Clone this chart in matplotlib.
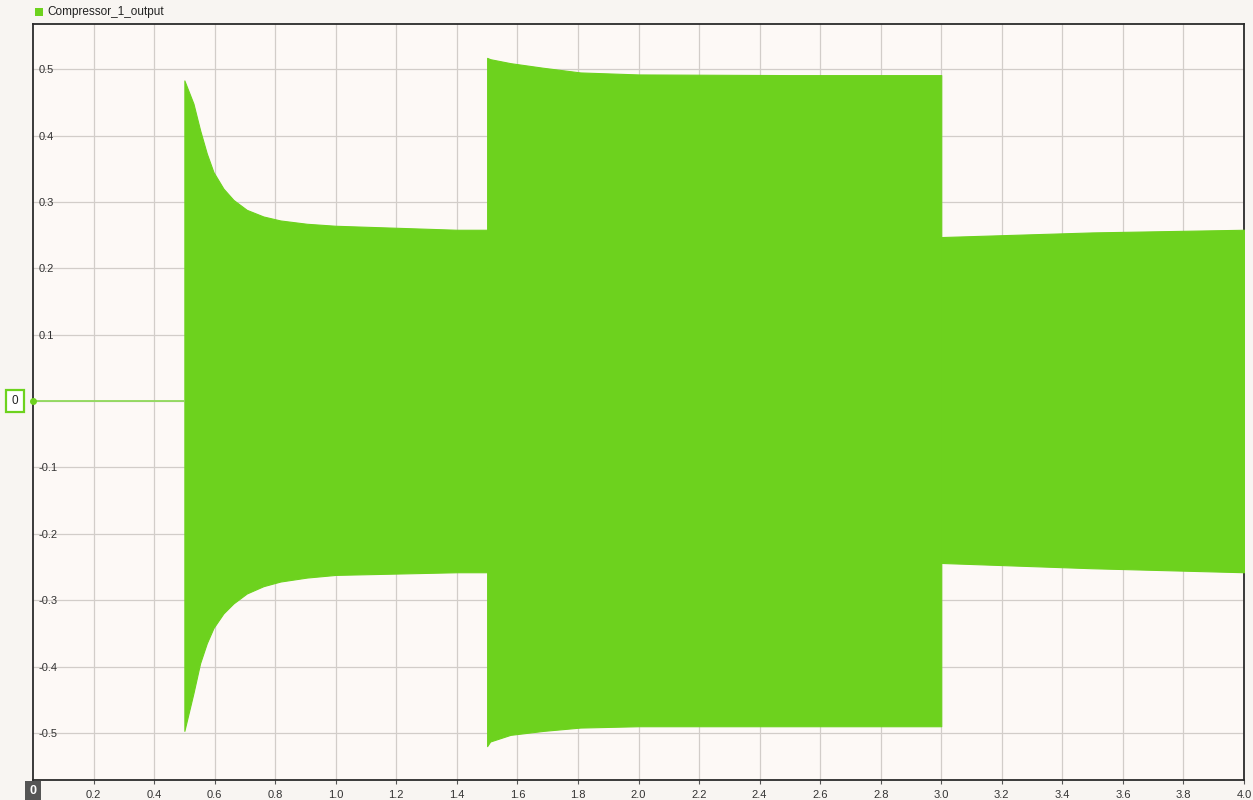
import matplotlib.pyplot as plt

# envelope of Compressor_1_output
seg1_t = [0.50, 0.53, 0.552, 0.574, 0.596, 0.629, 0.662, 0.706, 0.761, 0.817, 0.905, 1.0, 1.2, 1.4, 1.5]
seg1_hi = [0.483, 0.448, 0.408, 0.373, 0.345, 0.320, 0.303, 0.288, 0.278, 0.272, 0.267, 0.264, 0.261, 0.258, 0.258]
seg1_lo = [-0.497, -0.440, -0.395, -0.365, -0.342, -0.320, -0.305, -0.290, -0.279, -0.272, -0.266, -0.262,
           -0.260, -0.258, -0.258]

seg2_t = [1.5, 1.51, 1.577, 1.686, 1.808, 2.0, 2.5, 3.0]
seg2_hi = [0.517, 0.515, 0.509, 0.502, 0.495, 0.492, 0.491, 0.491]
seg2_lo = [-0.520, -0.513, -0.503, -0.497, -0.492, -0.490, -0.490, -0.490]

seg3_t = [3.0, 3.5, 4.0]
seg3_hi = [0.247, 0.254, 0.258]
seg3_lo = [-0.244, -0.252, -0.258]

idle_t = [0.0, 0.5]
idle_v = [0.0, 0.0]

x_ticks = [0.2, 0.4, 0.6, 0.8, 1.0, 1.2, 1.4, 1.6, 1.8, 2.0, 2.2, 2.4, 2.6, 2.8, 3.0,
           3.2, 3.4, 3.6, 3.8, 4.0]
y_ticks = [-0.5, -0.4, -0.3, -0.2, -0.1, 0.1, 0.2, 0.3, 0.4, 0.5]

green = '#6dd21e'
plt.rcParams['font.family'] = ['Liberation Sans', 'DejaVu Sans']

fig = plt.figure(figsize=(12.53, 8), dpi=100, facecolor='#f8f5f2')
ax = fig.add_axes([33 / 1253, 20 / 800, 1211 / 1253, 756 / 800])
ax.set_facecolor('#fdf9f6')

# signal envelope, segment by segment
for t, hi, lo in [(seg1_t, seg1_hi, seg1_lo), (seg2_t, seg2_hi, seg2_lo), (seg3_t, seg3_hi, seg3_lo)]:
    ax.fill_between(t, lo, hi, color=green, lw=0.8, ec=green, zorder=3)
ax.plot(idle_t, idle_v, color='#8fd95a', lw=1.3, zorder=3)
ax.plot([0], [0], 'o', color=green, ms=4, zorder=4, clip_on=False)

ax.set_xlim(0, 4.0)
ax.set_ylim(-0.571, 0.568)
ax.set_xticks(x_ticks)
ax.set_xticklabels([f'{v:.1f}' for v in x_ticks])
ax.set_yticks(y_ticks)
ax.set_yticklabels([f'{v:g}'.replace('\u2212', '-') for v in y_ticks])
for lab in ax.get_yticklabels():
    lab.set_horizontalalignment('left')
ax.tick_params(axis='y', length=0, pad=-4, labelsize=8, labelcolor='#333333')
ax.tick_params(axis='x', length=3, width=0.8, color='#555555', pad=4, labelsize=8, labelcolor='#333333')
ax.grid(True, color='#d2cdc9', lw=0.9, zorder=0)
ax.axhline(0, color='#d2cdc9', lw=0.9, zorder=0)
for s in ax.spines.values():
    s.set_color('#2b2b2b')
    s.set_linewidth(1.3)

# zero markers on the axes
ax.text(-0.0149, 0, '0', transform=ax.get_yaxis_transform(), ha='center', va='center', fontsize=8.5,
        color='#222222', bbox=dict(boxstyle='square,pad=0.45', fc='white', ec=green, lw=1.6), clip_on=False)
ax.text(0, -0.0145, '0', transform=ax.get_xaxis_transform(), ha='center', va='center', fontsize=9,
        fontweight='bold', color='white', bbox=dict(boxstyle='square,pad=0.35', fc='#555555', ec='none'),
        clip_on=False)

# legend
fig.patches.append(plt.Rectangle((35 / 1253, 1 - 16 / 800), 8 / 1253, 8 / 800, transform=fig.transFigure,
                                 fc=green, ec='none'))
fig.text(47 / 1253, 1 - 12 / 800, 'Compressor_1_output', fontsize=8.5, color='#222222', va='center')

fig.savefig('out.png', dpi=100, facecolor=fig.get_facecolor())
